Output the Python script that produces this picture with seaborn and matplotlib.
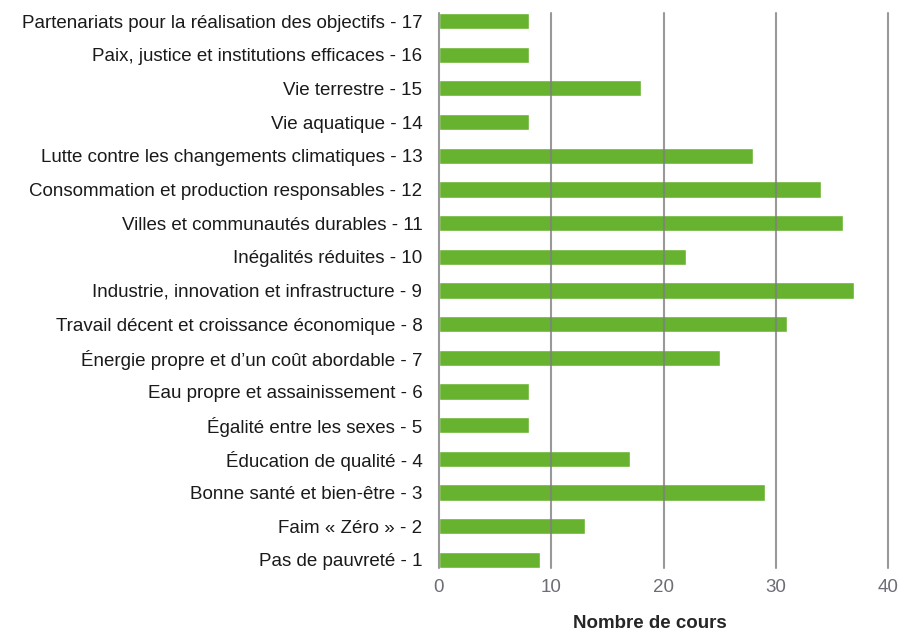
import numpy as np
import matplotlib
matplotlib.use("Agg")
import matplotlib.pyplot as plt
import seaborn as sns
import pandas as pd

sns.set_style("white")
plt.rcParams['font.family'] = ['Liberation Sans', 'DejaVu Sans']

objectifs = [
    "Partenariats pour la réalisation des objectifs - 17",
    "Paix, justice et institutions efficaces - 16",
    "Vie terrestre - 15",
    "Vie aquatique - 14",
    "Lutte contre les changements climatiques - 13",
    "Consommation et production responsables - 12",
    "Villes et communautés durables - 11",
    "Inégalités réduites - 10",
    "Industrie, innovation et infrastructure - 9",
    "Travail décent et croissance économique - 8",
    "Énergie propre et d’un coût abordable - 7",
    "Eau propre et assainissement - 6",
    "Égalité entre les sexes - 5",
    "Éducation de qualité - 4",
    "Bonne santé et bien-être - 3",
    "Faim « Zéro » - 2",
    "Pas de pauvreté - 1",
]
nb_cours = [8, 8, 18, 8, 28, 34, 36, 22, 37, 31, 25, 8, 8, 17, 29, 13, 9]
xticks = [0, 10, 20, 30, 40]

df = pd.DataFrame({"objectif": objectifs, "cours": nb_cours})

fig = plt.figure(figsize=(8.99, 6.33), dpi=100)
ax = fig.add_axes([0.4883, 0.1027, 0.4995, 0.8768])

bw = 0.48
sns.barplot(data=df, y="objectif", x="cours", orient="h", color="#67b22f",
            saturation=1, width=bw, ax=ax)

ax.set_xlim(0, 40)
ax.set_ylim(len(objectifs) - 1 + bw / 2, -bw / 2)
ax.set_xticks(xticks)
ax.set_axisbelow(False)
ax.grid(axis="x", color="#808080", alpha=0.8, linewidth=1.5)
ax.grid(axis="y", visible=False)
for gl in ax.get_xgridlines():
    gl.set_clip_on(False)
for s in ax.spines.values():
    s.set_visible(False)

ax.tick_params(axis="x", length=0, pad=8, labelsize=13.5, labelcolor="#6d6d75")
ax.tick_params(axis="y", length=0, pad=12, labelsize=13.5, labelcolor="#1a1a1a")
ax.set_ylabel("")
ax.set_xlabel("Nombre de cours", fontsize=13.5, fontweight="bold")
ax.xaxis.set_label_coords(0.47, -0.084)

plt.savefig("out.png", dpi=100)
